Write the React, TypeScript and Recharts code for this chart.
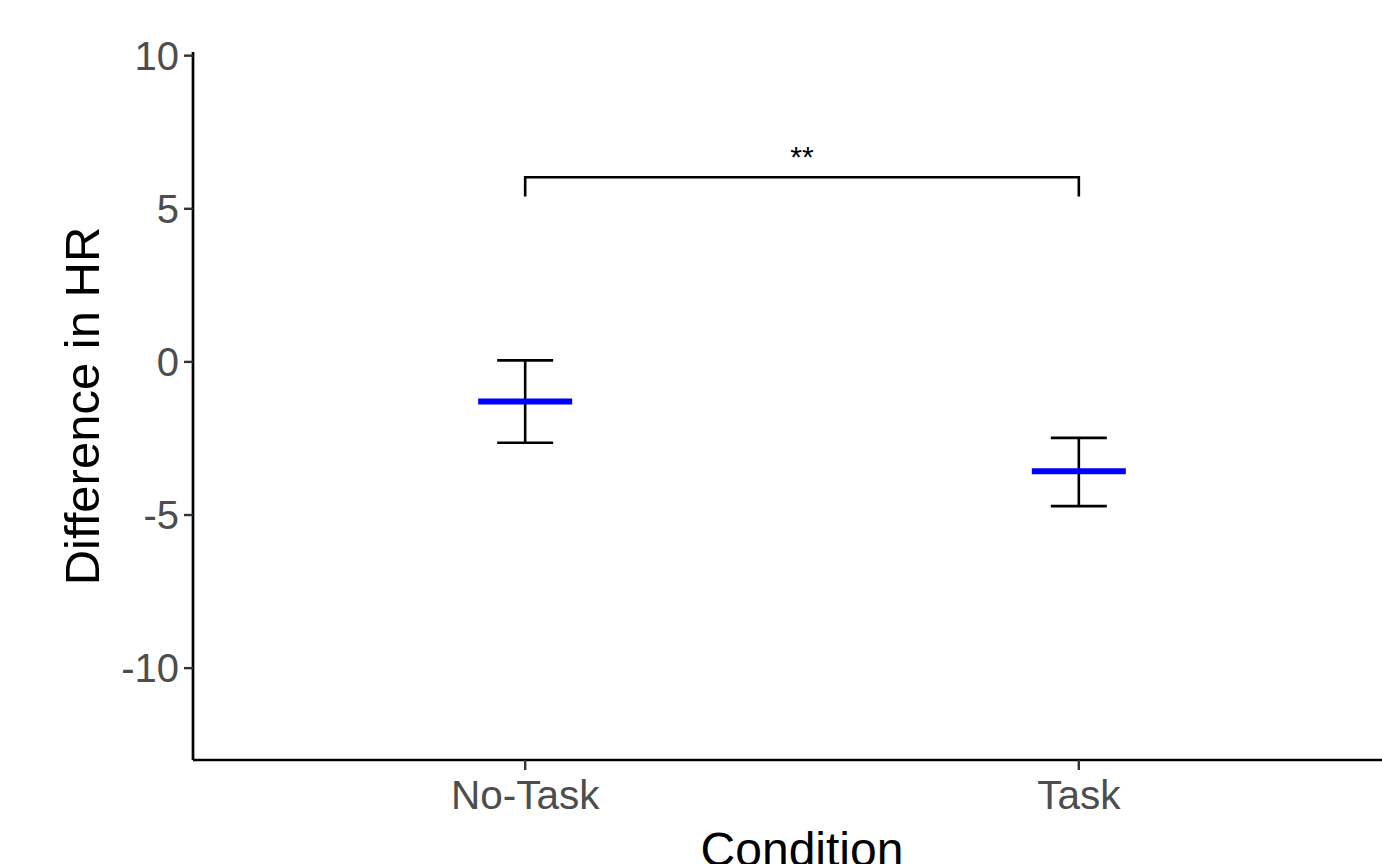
import React from "react";
import {
  ComposedChart,
  Scatter,
  Line,
  XAxis,
  YAxis,
  ErrorBar,
  ReferenceDot,
} from "recharts";

// ---- data ----
const categories = ["No-Task", "Task"];
const categoryPositions = [1, 2];
const means = [-1.29, -3.57];
const upperBounds = [0.05, -2.48];
const lowerBounds = [-2.64, -4.71];

const yTicks = [-10, -5, 0, 5, 10];
const yDomain = [-13, 10.12];
const xDomain = [0.4, 2.6];

// significance bracket
const bracketTop = 6.03;
const bracketTip = 5.4;
const bracketLabel = "**";

// ---- tables built from the arrays ----
const summaryData = categories.map((c, i) => ({
  x: categoryPositions[i],
  name: c,
  mean: means[i],
  err: [means[i] - lowerBounds[i], upperBounds[i] - means[i]],
}));

const bracketData = [
  { x: categoryPositions[0], y: bracketTip },
  { x: categoryPositions[0], y: bracketTop },
  { x: categoryPositions[1], y: bracketTop },
  { x: categoryPositions[1], y: bracketTip },
];

const FONT = "'Liberation Sans', Arial, Helvetica, sans-serif";

const MeanBar = (props: any) => {
  const { cx, cy } = props;
  if (cx == null || cy == null) return null;
  return (
    <line
      x1={cx - 47}
      x2={cx + 47}
      y1={cy}
      y2={cy}
      stroke="#0000FF"
      strokeWidth={6}
    />
  );
};

export default function App() {
  return (
    <div
      style={{
        position: "absolute",
        left: 0,
        top: 0,
        width: 1382,
        height: 864,
        overflow: "hidden",
        background: "#fff",
      }}
    >
      <ComposedChart
        width={1420}
        height={864}
        margin={{ top: 52, right: 9, bottom: 0, left: 0 }}
        style={{ fontFamily: FONT }}
      >
        <XAxis
          type="number"
          dataKey="x"
          domain={xDomain}
          ticks={categoryPositions}
          tickFormatter={(v: number) => categories[categoryPositions.indexOf(v)] ?? ""}
          allowDataOverflow
          height={104}
          axisLine={{ stroke: "#000", strokeWidth: 2.7 }}
          tickLine={{ stroke: "#333", strokeWidth: 2.4 }}
          tickSize={10}
          tickMargin={10}
          tick={{ fill: "#4d4d4d", fontSize: 40.5, fontFamily: FONT }}
          label={{
            value: "Condition",
            position: "insideBottom",
            offset: -2,
            fill: "#000",
            fontSize: 48,
            fontFamily: FONT,
          }}
        />
        <YAxis
          type="number"
          domain={yDomain}
          ticks={yTicks}
          allowDataOverflow
          width={193}
          axisLine={{ stroke: "#000", strokeWidth: 2.7 }}
          tickLine={{ stroke: "#333", strokeWidth: 2.4 }}
          tickSize={9}
          tickMargin={5}
          tick={{ fill: "#4d4d4d", fontSize: 40, fontFamily: FONT }}
          label={{
            value: "Difference in HR",
            angle: -90,
            position: "insideLeft",
            offset: 82,
            style: { textAnchor: "middle" },
            fill: "#000",
            fontSize: 49,
            fontFamily: FONT,
          }}
        />
        <Line
          data={bracketData}
          dataKey="y"
          type="linear"
          stroke="#000"
          strokeWidth={2.6}
          dot={false}
          activeDot={false}
          isAnimationActive={false}
        />
        <Scatter
          data={summaryData}
          dataKey="mean"
          shape={<MeanBar />}
          isAnimationActive={false}
        >
          <ErrorBar
            dataKey="err"
            direction="y"
            width={28}
            stroke="#000"
            strokeWidth={2.6}
            isAnimationActive={false}
          />
        </Scatter>
        <ReferenceDot
          x={(categoryPositions[0] + categoryPositions[1]) / 2}
          y={bracketTop}
          r={0}
          fill="none"
          stroke="none"
          label={{
            value: bracketLabel,
            position: "top",
            offset: 10,
            fill: "#000",
            fontSize: 30,
            fontFamily: FONT,
          }}
        />
      </ComposedChart>
    </div>
  );
}
